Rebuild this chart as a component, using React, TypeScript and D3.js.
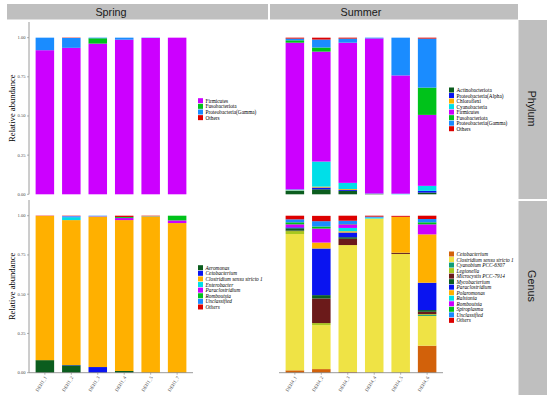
import React from "react";
import * as d3 from "d3";

const springSamples = ["DEH1_1", "DEH1_2", "DEH1_3", "DEH1_4", "DEH1_5", "DEH1_7"];
const summerSamples = ["DEH4_1", "DEH4_2", "DEH4_3", "DEH4_4", "DEH4_5", "DEH4_6"];
const yTicks = [0, 0.25, 0.5, 0.75, 1];

const springPhylumTaxa = ["Firmicutes", "Fusobacteriota", "Proteobacteria(Gamma)", "Others"];
const springPhylumColors = ["#cc00ff", "#00c21a", "#1a8cff", "#dd0000"];
const springPhylumValues = [
  [0.92, 0.935, 0.962, 0.987, 0.998, 1.0],
  [0, 0, 0.034, 0, 0, 0],
  [0.08, 0.063, 0.004, 0.013, 0.002, 0],
  [0, 0.002, 0, 0, 0, 0],
];

const summerPhylumTaxa = [
  "Actinobacteriota",
  "Proteobacteria(Alpha)",
  "Chloroflexi",
  "Cyanobacteria",
  "Firmicutes",
  "Fusobacteriota",
  "Proteobacteria(Gamma)",
  "Others",
];
const summerPhylumColors = ["#0b5d1e", "#0a14f0", "#ffb000", "#00dfe8", "#cc00ff", "#00c21a", "#1a8cff", "#dd0000"];
const summerPhylumValues = [
  [0.021, 0.032, 0.021, 0.003, 0, 0.011],
  [0.001, 0.011, 0.006, 0, 0, 0.011],
  [0.003, 0.006, 0.006, 0, 0, 0],
  [0.006, 0.16, 0.04, 0.002, 0.004, 0.032],
  [0.937, 0.702, 0.894, 0.99, 0.755, 0.453],
  [0.015, 0.026, 0.001, 0, 0, 0.174],
  [0.011, 0.051, 0.026, 0.005, 0.241, 0.313],
  [0.006, 0.012, 0.006, 0, 0, 0.006],
];

const springGenusTaxa = [
  "Aeromonas",
  "Cetobacterium",
  "Clostridium sensu stricto 1",
  "Enterobacter",
  "Paraclostridium",
  "Romboutsia",
  "Unclassified",
  "Others",
];
const springGenusColors = ["#0b5d1e", "#0a14f0", "#ffb000", "#00dfe8", "#cc00ff", "#00c21a", "#1a8cff", "#dd0000"];
const springGenusValues = [
  [0.08, 0.047, 0, 0.011, 0, 0],
  [0, 0.002, 0.036, 0, 0, 0],
  [0.918, 0.923, 0.958, 0.961, 0.996, 0.953],
  [0, 0.019, 0.002, 0, 0, 0],
  [0, 0.003, 0.002, 0.013, 0, 0.017],
  [0, 0, 0, 0.006, 0, 0.03],
  [0, 0.004, 0.002, 0.001, 0.002, 0],
  [0.002, 0.002, 0, 0.008, 0.002, 0],
];

const summerGenusTaxa = [
  "Cetobacterium",
  "Clostridium sensu stricto 1",
  "Cyanobium PCC-6307",
  "Legionella",
  "Microcystis PCC-7914",
  "Mycobacterium",
  "Paraclostridium",
  "Polaromonas",
  "Ralstonia",
  "Romboutsia",
  "Spiroplasma",
  "Unclassified",
  "Others",
];
const summerGenusColors = [
  "#d2610a", "#efe345", "#0f9e78", "#a8c81e", "#6b1a1a", "#0b5d1e", "#0a14f0",
  "#ffb000", "#00dfe8", "#cc00ff", "#00c21a", "#1a8cff", "#dd0000",
];
const summerGenusValues = [
  [0.015, 0.023, 0.004, 0, 0, 0.172],
  [0.868, 0.28, 0.809, 0.982, 0.756, 0.19],
  [0, 0, 0, 0, 0, 0.006],
  [0.019, 0.013, 0, 0, 0, 0.005],
  [0.003, 0.157, 0.04, 0, 0.006, 0.015],
  [0.015, 0.021, 0.01, 0, 0.002, 0.011],
  [0.006, 0.297, 0.03, 0, 0, 0.174],
  [0, 0.038, 0.008, 0, 0.229, 0.308],
  [0, 0, 0.021, 0.006, 0, 0],
  [0.019, 0.089, 0.023, 0, 0, 0.064],
  [0.013, 0.013, 0.002, 0, 0, 0.013],
  [0.019, 0.034, 0.021, 0.006, 0, 0.021],
  [0.023, 0.034, 0.032, 0.006, 0.006, 0.021],
];

const serif = "'Liberation Serif', 'Times New Roman', serif";
const sans = "'Liberation Sans', Arial, sans-serif";
const axisColor = "#808080";

type PanelProps = {
  samples: string[];
  taxa: string[];
  colors: string[];
  values: number[][];
  left: number;
  right: number;
  top: number;
  bottom: number;
  yAxis: boolean;
  xAxis: boolean;
  legendX: number;
  legendY: number;
  legendStep: number;
  italic: boolean;
};

function Panel(p: PanelProps) {
  const rows = p.samples.map((s, i) => {
    const r: any = { sample: s };
    p.taxa.forEach((t, k) => (r[t] = p.values[k][i]));
    return r;
  });
  const series = d3.stack().keys(p.taxa)(rows);
  const x = d3.scaleBand().domain(p.samples).range([p.left, p.right]).paddingInner(0.3).paddingOuter(0.25);
  const y = d3.scaleLinear().domain([0, 1.1]).range([p.bottom, p.top]);
  const fmt = d3.format(".2f");

  return (
    <g>
      {series.map((ser, k) => (
        <g key={ser.key} fill={p.colors[k]}>
          {ser.map((d: any, i) => (
            <rect
              key={i}
              x={x(p.samples[i])}
              y={y(d[1])}
              width={x.bandwidth()}
              height={Math.max(0, y(d[0]) - y(d[1]))}
            />
          ))}
        </g>
      ))}
      {p.yAxis && (
        <g>
          <line x1={p.left} x2={p.left} y1={p.top} y2={p.bottom} stroke={axisColor} strokeWidth={0.8} />
          {yTicks.map((t) => (
            <g key={t}>
              <line x1={p.left - 2} x2={p.left} y1={y(t)} y2={y(t)} stroke={axisColor} strokeWidth={0.6} />
              <text
                x={p.left - 3.5}
                y={y(t)}
                textAnchor="end"
                dominantBaseline="central"
                fontFamily={serif}
                fontSize={4.6}
                fill="#4d4d4d"
              >
                {fmt(t)}
              </text>
            </g>
          ))}
          <text
            transform={`translate(12,${(p.top + p.bottom) / 2}) rotate(-90)`}
            textAnchor="middle"
            dominantBaseline="central"
            fontFamily={serif}
            fontSize={8.6}
            fill="#000"
          >
            Relative abundance
          </text>
        </g>
      )}
      {p.xAxis && (
        <g>
          <line x1={p.left} x2={p.right} y1={p.bottom} y2={p.bottom} stroke={axisColor} strokeWidth={0.8} />
          {p.samples.map((s) => {
            const cx = (x(s) as number) + x.bandwidth() / 2;
            return (
              <g key={s}>
                <line x1={cx} x2={cx} y1={p.bottom} y2={p.bottom + 2} stroke={axisColor} strokeWidth={0.6} />
                <text
                  transform={`translate(${cx + 1},${p.bottom + 4}) rotate(-58)`}
                  textAnchor="end"
                  dominantBaseline="central"
                  fontFamily={serif}
                  fontSize={4.8}
                  fill="#4d4d4d"
                >
                  {s}
                </text>
              </g>
            );
          })}
        </g>
      )}
      {p.taxa.map((t, k) => {
        const cy = p.legendY + k * p.legendStep;
        return (
          <g key={t}>
            <rect x={p.legendX} y={cy - 2.5} width={5} height={5} fill={p.colors[k]} />
            <text
              x={p.legendX + 7.5}
              y={cy}
              dominantBaseline="central"
              fontFamily={serif}
              fontStyle={p.italic ? "italic" : "normal"}
              fontSize={5.3}
              fill="#000"
            >
              {t}
            </text>
          </g>
        );
      })}
    </g>
  );
}

function Strip({ x, y, w, h, label, cx, cy, vertical }: any) {
  return (
    <g>
      <rect x={x} y={y} width={w} height={h} fill="#bfbfbf" />
      <text
        transform={`translate(${cx},${cy})${vertical ? " rotate(90)" : ""}`}
        textAnchor="middle"
        dominantBaseline="central"
        fontFamily={sans}
        fontSize={10.8}
        fill="#1a1a1a"
      >
        {label}
      </text>
    </g>
  );
}

export default function App() {
  const topPanel = { top: 22, bottom: 194.3 };
  const botPanel = { top: 200, bottom: 372.7 };
  const leftCol = { left: 29, right: 193 };
  const rightCol = { left: 279, right: 443 };

  return (
    <svg width={550} height={398} style={{ position: "absolute", left: 0, top: 0, background: "#fff" }}>
      <rect width={550} height={398} fill="#fff" />
      <Strip x={7} y={4} w={261} h={15.5} label="Spring" cx={111} cy={12} />
      <Strip x={270} y={4} w={248} h={15.5} label="Summer" cx={361} cy={12} />
      <Strip x={518.5} y={20} w={28.5} h={179} label="Phylum" cx={532} cy={108.5} vertical />
      <Strip x={518.5} y={201} w={28.5} h={194} label="Genus" cx={532} cy={286} vertical />

      <Panel
        samples={springSamples}
        taxa={springPhylumTaxa}
        colors={springPhylumColors}
        values={springPhylumValues}
        {...leftCol}
        {...topPanel}
        yAxis
        xAxis={false}
        legendX={198}
        legendY={100.7}
        legendStep={5.65}
        italic={false}
      />
      <Panel
        samples={summerSamples}
        taxa={summerPhylumTaxa}
        colors={summerPhylumColors}
        values={summerPhylumValues}
        {...rightCol}
        {...topPanel}
        yAxis={false}
        xAxis={false}
        legendX={449}
        legendY={90}
        legendStep={5.53}
        italic={false}
      />
      <Panel
        samples={springSamples}
        taxa={springGenusTaxa}
        colors={springGenusColors}
        values={springGenusValues}
        {...leftCol}
        {...botPanel}
        yAxis
        xAxis
        legendX={198}
        legendY={267.7}
        legendStep={5.61}
        italic
      />
      <Panel
        samples={summerSamples}
        taxa={summerGenusTaxa}
        colors={summerGenusColors}
        values={summerGenusValues}
        {...rightCol}
        {...botPanel}
        yAxis={false}
        xAxis
        legendX={449}
        legendY={254}
        legendStep={5.53}
        italic
      />
    </svg>
  );
}
